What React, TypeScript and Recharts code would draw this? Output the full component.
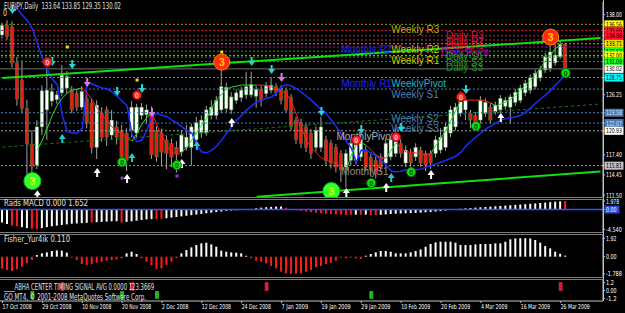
import React from "react";
import {
  ComposedChart,
  Bar,
  Line,
  XAxis,
  YAxis,
  ReferenceLine,
  ReferenceDot,
  Cell,
} from "recharts";

const NARROW = "'Liberation Sans Narrow', 'DejaVu Sans Condensed', 'Liberation Sans', sans-serif";
const SANS = "'Liberation Sans', Arial, sans-serif";
const SLOTS = 121; // 114 bars + chart shift on the right

// time axis
const dateBars = [0, 8, 16, 24, 32, 40, 48, 56, 64, 72, 80, 88, 96, 104, 112];
const dateLabels = [
  "17 Oct 2008", "29 Oct 2008", "10 Nov 2008", "20 Nov 2008", "2 Dec 2008",
  "12 Dec 2008", "24 Dec 2008", "7 Jan 2009", "19 Jan 2009", "29 Jan 2009",
  "10 Feb 2009", "20 Feb 2009", "4 Mar 2009", "16 Mar 2009", "26 Mar 2009",
];

// EURJPY daily candles
const opens = [
  135.0, 136.4, 136.2, 130.9, 128.4, 124.2, 119.0, 115.9, 121.5, 124.0,
  125.3, 125.5, 126.5, 127.2, 126.9, 126.4, 124.4, 125.7, 125.0, 118.5,
  123.5, 124.0, 120.3, 121.5, 121.0, 120.6, 121.0, 120.6, 123.2, 123.3,
  123.5, 121.0, 120.6, 119.6, 119.1, 118.5, 117.8, 118.5, 118.5, 119.6,
  120.6, 120.6, 123.2, 123.2, 124.0, 124.2, 124.0, 125.4, 125.8, 126.2,
  126.2, 126.0, 127.0, 126.4, 126.9, 127.4, 127.2, 126.9, 125.9, 122.5,
  122.1, 121.5, 120.6, 118.5, 118.5, 119.6, 119.1, 118.5, 117.6, 115.6,
  116.6, 116.6, 117.1, 118.1, 117.1, 116.6, 117.1, 116.2, 117.1, 117.6,
  119.1, 116.2, 117.6, 117.1, 118.1, 117.6, 117.6, 117.6, 118.1, 118.5,
  120.6, 121.5, 123.5, 124.0, 123.5, 123.2, 122.5, 123.5, 124.4, 123.7,
  124.0, 124.5, 124.4, 125.1, 125.4, 126.5, 126.9, 127.4, 128.7, 129.85,
  130.1, 130.9, 131.8, 133.64,
];
const highs = [
  136.8, 137.2, 137.0, 131.8, 131.3, 125.5, 121.0, 122.5, 127.6, 130.4,
  127.8, 126.8, 130.6, 129.7, 127.5, 127.0, 127.5, 126.3, 125.7, 125.4,
  124.4, 124.5, 124.0, 122.4, 121.8, 121.3, 125.3, 124.9, 125.0, 124.8,
  124.5, 121.6, 121.2, 120.2, 119.8, 119.4, 121.0, 121.8, 122.0, 123.0,
  123.2, 124.6, 125.4, 126.0, 129.9, 128.0, 126.6, 127.0, 127.4, 129.6,
  129.6, 127.5, 127.6, 128.1, 128.8, 127.9, 127.6, 127.3, 126.3, 123.0,
  122.7, 122.0, 121.2, 121.6, 123.0, 120.2, 119.6, 119.0, 118.1, 118.2,
  119.8, 120.3, 120.5, 118.7, 117.6, 117.2, 117.6, 119.8, 120.2, 121.4,
  119.8, 118.8, 118.3, 119.1, 118.6, 118.0, 118.1, 120.2, 121.3, 122.2,
  124.6, 125.0, 126.7, 126.0, 124.0, 123.7, 126.0, 125.7, 125.0, 125.2,
  126.2, 125.9, 126.3, 127.1, 127.7, 128.4, 129.2, 129.9, 130.4, 132.4,
  133.8, 135.3, 134.2, 133.85,
];
const lows = [
  134.5, 134.3, 130.2, 124.6, 123.5, 113.8, 114.6, 115.3, 120.3, 119.6,
  124.5, 124.9, 126.0, 126.4, 123.5, 123.8, 124.0, 121.3, 117.6, 116.8,
  119.3, 118.7, 119.6, 118.9, 116.3, 115.0, 120.0, 119.8, 122.6, 122.0,
  116.8, 116.4, 115.7, 115.3, 115.6, 114.8, 117.2, 118.0, 115.8, 118.8,
  119.9, 120.2, 122.6, 122.6, 123.5, 123.6, 123.4, 124.9, 125.2, 125.6,
  125.8, 124.3, 124.5, 125.9, 126.4, 126.0, 124.8, 123.6, 121.0, 119.0,
  118.4, 117.8, 116.8, 117.9, 117.8, 115.9, 115.4, 114.8, 113.4, 112.6,
  115.9, 116.0, 116.5, 115.0, 114.2, 113.9, 115.0, 115.7, 116.6, 117.1,
  117.0, 115.6, 115.4, 116.5, 115.6, 115.0, 115.3, 117.0, 117.6, 118.0,
  120.0, 121.0, 123.0, 122.5, 121.3, 121.5, 122.0, 123.0, 122.0, 123.3,
  123.5, 124.0, 122.0, 124.6, 125.0, 126.0, 126.4, 127.0, 128.2, 129.4,
  129.6, 130.5, 131.4, 129.35,
];
const closes = [
  136.4, 134.8, 130.9, 125.6, 124.2, 119.0, 115.8, 121.5, 126.8, 126.9,
  126.7, 126.2, 129.1, 128.9, 124.0, 124.4, 126.7, 122.0, 118.5, 124.7,
  120.0, 120.0, 122.5, 120.0, 117.1, 116.6, 124.4, 124.4, 124.4, 124.0,
  117.4, 117.1, 117.8, 117.6, 117.1, 117.6, 120.3, 120.0, 121.5, 122.1,
  122.5, 124.0, 124.4, 125.4, 127.4, 127.3, 125.9, 126.5, 126.9, 127.4,
  127.7, 127.0, 125.4, 127.6, 127.6, 126.5, 125.4, 124.0, 121.5, 119.6,
  119.1, 118.5, 117.6, 121.0, 121.5, 116.6, 116.2, 115.6, 115.2, 117.6,
  119.1, 119.6, 119.6, 115.6, 115.2, 114.7, 115.6, 119.1, 119.6, 120.0,
  117.6, 118.1, 116.2, 118.5, 116.2, 115.9, 116.2, 119.6, 120.0, 121.5,
  124.0, 124.4, 125.9, 125.4, 122.5, 122.1, 125.4, 125.1, 122.5, 124.7,
  125.7, 125.4, 125.9, 126.6, 127.2, 127.9, 128.7, 129.4, 129.85, 131.8,
  132.5, 132.05, 133.6, 130.02,
];

// blue moving line
const blueLine = [
  null, null, 139.5, 138.8, 137.9, 137.1, 135.9, 133.8, 131.6, 129.9,
  128.5, 127.7, 123.2, 120.8, 120.6, 120.6, 121.3, 128.1, 127.8, 127.5,
  127.2, 127.1, 126.6, 126.0, 125.3, 124.6, 120.3, 119.3, 119.6, 121.0,
  123.1, 123.5, 123.2, 123.0, 122.5, 122.1, 121.5, 121.0, 120.6, 118.8,
  117.8, 117.7, 118.1, 118.7, 119.6, 120.6, 121.5, 122.5, 123.2, 124.0,
  124.6, 125.2, 125.4, 125.7, 125.9, 126.5, 127.4, 127.7, 127.5, 127.1,
  126.6, 126.0, 125.4, 124.7, 124.0, 123.4, 122.5, 121.5, 120.5, 119.4,
  118.4, 116.3, 118.1, 118.0, 117.7, 117.2, 116.6, 115.9, 115.0, 114.9,
  115.0, 115.2, 115.2, 115.2, 115.3, 115.6, 115.8, 116.1, 116.3, 116.6,
  116.9, 117.2, 117.8, 118.7, 119.4, 120.0, 120.6, 121.2, 121.6, 122.1,
  122.5, 122.7, 122.8, 123.0, 123.2, 123.7, 124.3, 125.0, 125.6, 126.2,
  126.9, 127.7, 128.4, 129.3,
];

// red / green trailing line
const trailLine = [
  null, null, null, null, null, null, null, 118.1, 119.57, 121.33,
  123.24, 124.71, 125.74, 126.47, 126.91, 127.06, 127.21, 126.47, 125.44, 124.27,
  123.24, 122.36, 121.48, 120.89, 120.45, 119.87, 119.42, 120.6, 121.92, 122.95,
  123.54, 121.77, 120.16, 118.69, 117.81, 117.37, 117.81, 118.54, 119.57, 120.75,
  121.77, 122.8, 124.27, 125.44, 126.33, 127.06, 127.35, 127.5, 127.65, 127.65,
  127.65, 127.65, 127.65, 127.5, 127.35, 127.06, 126.77, 126.33, 125.15, 123.24,
  121.33, 119.57, 118.4, 117.66, 116.93, 116.63, 116.34, 116.05, 115.61, 115.17,
  117.37, 118.84, 119.13, 118.84, 118.1, 117.37, 116.93, 116.93, 118.1, 119.13,
  118.4, 117.81, 117.81, 117.66, 117.52, 117.37, 117.66, 118.84, 119.87, 121.04,
  122.51, 123.98, 125.44, 125.44, 125.44, 125.44, 125.44, 125.3, 125.0, 124.56,
  124.86, 125.15, 125.59, 126.18, 126.91, 127.65, 128.38, 129.26, 130.14, 131.32,
  132.05, 133.08, 133.37, 132.79,
];
const trailRuns: [number, number, string][] = [
  [7, 16, "g"], [17, 26, "r"], [27, 30, "g"], [31, 36, "r"], [37, 51, "g"],
  [52, 69, "r"], [70, 73, "g"], [74, 77, "r"], [78, 79, "g"], [80, 86, "r"],
  [87, 92, "g"], [93, 98, "r"], [99, 112, "g"], [113, 113, "r"],
];

// pivot levels
const levelPrices = [
  136.56, 135.66, 134.88, 134.26, 133.71, 133.23, 132.62, 132.0, 131.76,
  131.09, 130.02, 128.75, 127.06, 123.58, 122.07, 120.93, 115.81,
];
const levelColors = [
  "#9a9a00", "#dc143c", "#dc143c", "#c0305a", "#b4b400", "#c000c0", "#20a020",
  "#b4b400", "#20a020", "#20a020", "#707070", "#00a8d0", "#4682b4", "#4682b4",
  "#4682b4", "#a0a0a0", "#a0a0a0",
];
const labelTexts = [
  "Weekly R3", "Daily R3", "Daily R2", "Daily R1", "Monthly R2", "Weekly R2",
  "Daily Pivot", "Daily S1", "Weekly R1", "Daily S2", "Daily S3", "Monthly R1",
  "WeeklyPivot", "Weekly S1", "Weekly S2", "Weekly S3", "MonthlyPivot", "MonthlyS1",
];
const labelBars = [78, 89, 89, 89, 68, 78, 88, 89, 78, 89, 89, 68, 78, 78, 78, 78, 67, 68];
const labelPrices = [
  136.56, 135.66, 134.88, 134.26, 133.71, 133.71, 133.23, 132.62, 132.0,
  131.76, 131.09, 128.75, 128.75, 127.06, 123.58, 122.07, 120.93, 115.81,
];
const labelColors = [
  "#b4b400", "#dc143c", "#dc143c", "#dc143c", "#2020ff", "#c8c800", "#c000c0",
  "#209020", "#c8c800", "#209020", "#209020", "#2020ff", "#20b0c8", "#4682b4",
  "#4682b4", "#4682b4", "#b0b0b0", "#909090",
];

// trend lines [bar, price]
const trendUpper = [[0, 128.68], [120, 134.55]];
const trendLower = [[51, 111.25], [120, 114.95]];
const trendDashed = [[0, 118.54], [120, 124.86]];

// price axis
const plainTicks = [138.0, 126.25, 117.4, 114.45, 111.5];
const boxTicks = [
  136.56, 135.66, 134.88, 133.71, 132.62, 132.0, 131.09, 130.02, 128.75,
  123.58, 122.07, 120.93, 115.81,
];
const boxFills = [
  "#ffff00", "#ff2020", "#ff1030", "#f0e000", "#20ff20", "#ffff00", "#20ff20",
  "#ffffff", "#00ffff", "#4a78b0", "#4a78b0", "#ffffff", "#c0c0c0",
];

// signal markers
const cyanDownBars = [2, 10, 14, 23, 28, 50, 54, 64, 72, 80, 93];
const cyanDownPrices = [138.66, 131.02, 130.58, 126.62, 127.06, 131.02, 129.85, 123.68, 121.04, 121.33, 126.91];
const cyanUpBars = [12, 26, 39, 78];
const cyanUpPrices = [119.87, 117.08, 118.84, 114.14];
const whiteUpBars = [7, 19, 25, 36, 46, 69, 77, 86, 100];
const whiteUpPrices = [111.6, 114.87, 113.99, 116.19, 122.21, 111.94, 112.67, 114.58, 122.95];
const pinkDownBars = [17, 30, 56];
const pinkDownPrices = [127.94, 123.54, 128.68];
const greenZeroBars = [24, 35, 74, 82, 95, 113];
const greenZeroPrices = [116.34, 115.9, 113.26, 114.87, 121.63, 129.41];
const redZeroBars = [9, 27, 71, 79, 92];
const redZeroPrices = [131.02, 126.18, 119.57, 120.01, 125.89];
const redThreeBars = [44, 110];
const redThreePrices = [131.02, 134.7];
const greenThreeBars = [6, 66];
const greenThreePrices = [113.55, 112.08];
const yellowDotBars = [13, 27, 44];
const yellowDotPrices = [133.23, 128.38, 132.49];
const purpleDotBars = [24, 35];
const purpleDotPrices = [113.99, 114.29];

// Rads MACD histogram
const macd = [
  -2.98, -3.33, -3.69, -3.83, -4.04, -4.26, -4.4, -4.54, -4.26, -4.04,
  -3.83, -3.69, -3.55, -3.4, -3.26, -3.19, -3.12, -3.05, -2.98, -2.91,
  -2.84, -2.77, -2.69, -2.69, -2.98, -2.84, -2.69, -2.55, -2.41, -2.27,
  -2.2, -2.2, -2.13, -1.99, -1.84, -1.7, -1.56, -1.42, -1.28, -1.13,
  -0.99, -0.85, -0.71, -0.57, -0.43, -0.28, -0.21, -0.14, 0.02, 0.08,
  0.15, 0.3, 0.45, 0.55, 0.62, 0.68, 0.7, 0.45, -0.08, -0.15,
  -0.3, -0.45, -0.6, -0.72, -0.85, -0.95, -1.05, -1.12, -1.2, -1.25,
  -1.2, -1.15, -1.22, -1.15, -1.25, -1.3, -1.2, -1.1, -1.0, -0.95,
  -0.9, -0.85, -0.8, -0.75, -0.7, -0.62, -0.55, -0.45, -0.35, -0.22,
  -0.1, 0.1, 0.2, 0.3, 0.38, 0.45, 0.52, 0.6, 0.68, 0.76,
  0.84, 0.92, 1.0, 1.08, 1.16, 1.25, 1.34, 1.43, 1.52, 1.62,
  1.72, 1.82, 1.9, 1.978,
];
const macdRed = [2, 3, 6, 7, 18, 24, 31, 32, 57, 58, 59, 60, 61, 62, 63, 64, 65, 66, 67, 68, 69, 70, 72, 74, 75, 113];

// Fisher_Yur4ik
const fisher = [
  -1.22, -1.39, -1.49, -1.32, -1.04, -0.69, -0.35, 0.17, 0.35, 0.45,
  0.59, 0.66, 0.63, 0.42, -0.1, -0.35, -0.76, -0.87, -0.76, -0.63,
  -0.52, -0.42, -0.35, -0.28, -0.17, 0.35, 0.52, 0.28, -0.17, -0.52,
  -0.87, -1.32, -1.22, -0.87, -0.52, -0.17, 0.35, 0.69, 0.97, 1.22,
  1.39, 1.46, 1.28, 1.04, 0.63, 0.52, 0.45, 0.42, 0.35, 0.1,
  -0.17, -0.42, -0.52, -0.69, -0.97, -1.22, -1.56, -1.74, -1.788, -1.76,
  -1.74, -1.56, -1.39, -1.11, -0.97, -0.76, -0.63, -0.42, -0.1, -0.17,
  -0.1, -0.17, -0.24, 0.1, 0.28, 0.45, 0.59, 0.59, 0.52, 0.35,
  0.35, 0.35, 0.45, 0.59, 0.76, 1.04, 1.32, 1.49, 1.56, 1.56,
  1.56, 1.46, 1.22, 1.22, 1.22, 1.28, 1.32, 1.32, 1.32, 1.39,
  1.39, 1.56, 1.81, 1.9, 1.92, 1.92, 1.9, 1.74, 1.46, 1.11,
  0.87, 0.52, 0.3, 0.11,
];

// ABHA timing signal
const abhaRedBars = [12, 26, 53, 112];
const abhaGreenBars = [6, 24, 31, 74];

// window captions and the width each one takes
const captionTexts = [
  "EURJPY,Daily  133.64 133.85 129.35 130.02",
  "0",
  "Rads MACD 0.000 1.652",
  "Fisher_Yur4ik 0.110",
  "____ABHA CENTER TIMING SIGNAL AVG 0.0000 123.3669",
  "GO MT4, © 2001-2008 MetaQuotes Software Corp.",
];
const captionTops = [9, 16, 206, 242, 290, 300];
const captionWidths = [117, 4, 84, 66, 150, 142];

const trailSide: string[] = [];
trailRuns.forEach(([a, b, s]) => {
  for (let i = a; i <= b; i++) trailSide[i] = s;
});

const rows = Array.from({ length: SLOTS }, (_, i) => ({
  i,
  o: opens[i],
  h: highs[i],
  l: lows[i],
  c: closes[i],
  ma: blueLine[i] ?? null,
  tg: trailSide[i] === "g" || trailSide[i + 1] === "g" ? trailLine[i] ?? null : null,
  tr: trailSide[i] === "r" || trailSide[i + 1] === "r" ? trailLine[i] ?? null : null,
  macd: macd[i] ?? null,
  fisher: fisher[i] ?? null,
  abha: abhaRedBars.includes(i) ? [0, 1.2] : abhaGreenBars.includes(i) ? [-1.2, -0.15] : null,
}));

// MT4 scale font is small and tight
const fit = (s: string) => s.length * 2.65;

function Candle(props: any) {
  const { x, y, width, height, payload } = props;
  if (payload.o == null || !isFinite(y)) return <g />;
  const { o, h, l, c } = payload;
  const k = h > l ? height / (h - l) : 0;
  const yo = y + (h - o) * k;
  const yc = y + (h - c) * k;
  const cx = x + width / 2;
  const up = c >= o;
  const top = Math.min(yo, yc);
  const bh = Math.max(1, Math.abs(yc - yo));
  return (
    <g>
      <line x1={cx} x2={cx} y1={y} y2={y + height} stroke="#a0a0a0" strokeWidth={1} />
      <rect
        x={cx - 1.7}
        y={top}
        width={3.4}
        height={bh}
        fill={up ? "#ffffff" : "#f01818"}
        stroke={up ? "#3c9c3c" : "#2a8a2a"}
        strokeWidth={0.5}
      />
    </g>
  );
}

function ScaleText({ x, y, txt, fill }: { x: number; y: number; txt: string; fill: string }) {
  return (
    <text
      x={x}
      y={y}
      fill={fill}
      fontSize={6.8}
      fontFamily={NARROW}
      textLength={fit(txt)}
      lengthAdjust="spacingAndGlyphs"
    >
      {txt}
    </text>
  );
}

function priceTick(props: any) {
  const { x, y, payload } = props;
  const v = payload.value;
  const k = boxTicks.indexOf(v);
  const txt = v.toFixed(2);
  if (k < 0) return <ScaleText x={x} y={y + 2.5} txt={txt} fill="#ffffff" />;
  const dark = boxFills[k] === "#4a78b0";
  return (
    <g>
      <rect x={x - 1.5} y={y - 4} width={19} height={8} fill={boxFills[k]} />
      <ScaleText x={x} y={y + 2.5} txt={txt} fill={dark ? "#d8e4ff" : "#000000"} />
    </g>
  );
}

const sideTick = (values: number[], texts: string[], boxes: (string | null)[]) => (props: any) => {
  const k = values.indexOf(props.payload.value);
  const box = boxes[k];
  return (
    <g>
      {box && <rect x={props.x - 1.5} y={props.y - 4} width={15} height={8} fill={box} />}
      <ScaleText x={props.x} y={props.y + 2.5} txt={texts[k]} fill="#ffffff" />
    </g>
  );
};

function dateTick(props: any) {
  const { x, y, payload } = props;
  const k = dateBars.indexOf(payload.value);
  return <ScaleText x={x} y={y + 6} txt={dateLabels[k]} fill="#ffffff" />;
}

const arrowDown = (color: string) => (p: any) => (
  <path
    d={`M${p.cx - 1} ${p.cy - 5} L${p.cx + 1} ${p.cy - 5} L${p.cx + 1} ${p.cy - 1} L${p.cx + 3.5} ${p.cy - 1} L${p.cx} ${p.cy + 4} L${p.cx - 3.5} ${p.cy - 1} L${p.cx - 1} ${p.cy - 1} Z`}
    fill={color}
  />
);
const arrowUp = (color: string) => (p: any) => (
  <path
    d={`M${p.cx - 1} ${p.cy + 5} L${p.cx + 1} ${p.cy + 5} L${p.cx + 1} ${p.cy + 1} L${p.cx + 3.5} ${p.cy + 1} L${p.cx} ${p.cy - 4} L${p.cx - 3.5} ${p.cy + 1} L${p.cx - 1} ${p.cy + 1} Z`}
    fill={color}
  />
);
const badge = (r: number, fill: string, ring: string, txt: string, txtColor: string, fs: number) => (p: any) => (
  <g>
    <circle cx={p.cx} cy={p.cy} r={r} fill={fill} stroke={ring} strokeWidth={1} />
    <text
      x={p.cx}
      y={p.cy + fs * 0.36}
      textAnchor="middle"
      fill={txtColor}
      fontSize={fs}
      fontWeight="bold"
      fontFamily={SANS}
    >
      {txt}
    </text>
  </g>
);
const square = (color: string) => (p: any) => (
  <rect x={p.cx - 1.5} y={p.cy - 1.5} width={3} height={3} fill={color} />
);

const markerSets: { bars: number[]; prices: number[]; shape: (p: any) => React.ReactElement }[] = [
  { bars: yellowDotBars, prices: yellowDotPrices, shape: square("#e8e800") },
  { bars: purpleDotBars, prices: purpleDotPrices, shape: square("#9a30c8") },
  { bars: cyanDownBars, prices: cyanDownPrices, shape: arrowDown("#20d8d8") },
  { bars: cyanUpBars, prices: cyanUpPrices, shape: arrowUp("#20c8d0") },
  { bars: whiteUpBars, prices: whiteUpPrices, shape: arrowUp("#ffffff") },
  { bars: pinkDownBars, prices: pinkDownPrices, shape: arrowDown("#d080e0") },
  { bars: greenZeroBars, prices: greenZeroPrices, shape: badge(4.5, "#10e010", "#008000", "0", "#004000", 7) },
  { bars: redZeroBars, prices: redZeroPrices, shape: badge(4.5, "#ff2020", "#a00000", "0", "#ffd0d0", 7) },
  { bars: redThreeBars, prices: redThreePrices, shape: badge(8, "#ff2a10", "#ff8000", "3", "#ffcc00", 11) },
  { bars: greenThreeBars, prices: greenThreePrices, shape: badge(8.5, "#30ff30", "#10c010", "3", "#e0ff00", 11) },
];

const W = 625;
const AXIS_W = 22;
const AXIS_COLOR = "#c0c0c0";

const sep = (top: number): React.CSSProperties => ({
  position: "absolute",
  left: 0,
  top,
  width: 603,
  height: 1,
  borderTop: "1px solid #7c7c7c",
  borderBottom: "1px solid #7c7c7c",
});

export default function App() {
  return (
    <div
      style={{
        position: "absolute",
        left: 0,
        top: 0,
        width: W,
        height: 313,
        background: "#000000",
        overflow: "hidden",
        fontFamily: SANS,
      }}
    >
      {/* price window */}
      <div style={{ position: "absolute", left: 0, top: 0 }}>
        <ComposedChart width={W} height={198} data={rows} margin={{ top: 2, right: 0, bottom: 1, left: 0 }}>
          <XAxis dataKey="i" type="category" hide />
          <YAxis
            orientation="right"
            width={AXIS_W}
            domain={[111.21, 139.84]}
            allowDataOverflow
            ticks={[...plainTicks, ...boxTicks]}
            interval={0}
            tick={priceTick}
            tickSize={2}
            tickMargin={1}
            axisLine={{ stroke: AXIS_COLOR }}
            tickLine={{ stroke: AXIS_COLOR }}
          />
          {levelPrices.map((p, k) => (
            <ReferenceLine
              key={`lv${k}`}
              y={p}
              stroke={levelColors[k]}
              strokeDasharray={p === 130.02 ? undefined : "2 2"}
              strokeWidth={1}
            />
          ))}
          <ReferenceLine
            segment={trendDashed.map(([b, p]) => ({ x: b, y: p }))}
            stroke="#127a12"
            strokeDasharray="3 3"
            strokeWidth={1}
          />
          <Bar dataKey={(d: any) => (d.h == null ? null : [d.l, d.h])} shape={Candle} barSize={4} isAnimationActive={false} />
          <Line dataKey="ma" stroke="#1a2cff" strokeWidth={1.5} dot={false} activeDot={false} isAnimationActive={false} />
          <Line dataKey="tg" stroke="#20e020" strokeWidth={1} dot={false} activeDot={false} isAnimationActive={false} />
          <Line dataKey="tr" stroke="#ff2020" strokeWidth={1} dot={false} activeDot={false} isAnimationActive={false} />
          <ReferenceLine
            segment={trendUpper.map(([b, p]) => ({ x: b, y: p }))}
            stroke="#10e010"
            strokeWidth={2}
          />
          <ReferenceLine
            segment={trendLower.map(([b, p]) => ({ x: b, y: p }))}
            stroke="#10e010"
            strokeWidth={2}
          />
          {labelTexts.map((t, k) => (
            <ReferenceDot
              key={`lb${k}`}
              x={labelBars[k]}
              y={labelPrices[k]}
              r={0}
              ifOverflow="visible"
              shape={(p: any) => (
                <text x={p.cx} y={p.cy + 9} fill={labelColors[k]} fontSize={10} fontFamily={SANS}>
                  {t}
                </text>
              )}
            />
          ))}
          {markerSets.flatMap((m, s) =>
            m.bars.map((b, k) => (
              <ReferenceDot key={`m${s}-${k}`} x={b} y={m.prices[k]} r={0} ifOverflow="visible" shape={m.shape} />
            ))
          )}
        </ComposedChart>
      </div>

      {/* Rads MACD */}
      <div style={{ position: "absolute", left: 0, top: 199 }}>
        <ComposedChart width={W} height={34} data={rows} margin={{ top: 1, right: 0, bottom: 1, left: 0 }}>
          <XAxis dataKey="i" type="category" hide />
          <YAxis
            orientation="right"
            width={AXIS_W}
            domain={[-5.16, 2.21]}
            allowDataOverflow
            ticks={[1.978, 0, -4.54]}
            interval={0}
            tick={sideTick([1.978, 0, -4.54], ["1.978", "0.00", "-4.540"], [null, "#2848d8", null])}
            tickSize={2}
            tickMargin={1}
            axisLine={{ stroke: AXIS_COLOR }}
            tickLine={{ stroke: AXIS_COLOR }}
          />
          <Bar dataKey="macd" barSize={2} isAnimationActive={false}>
            {rows.map((r) => (
              <Cell key={r.i} fill={macdRed.includes(r.i) ? "#ff1a1a" : "#ffffff"} />
            ))}
          </Bar>
          <ReferenceLine y={0} stroke="#3050ff" strokeWidth={1.5} />
        </ComposedChart>
      </div>

      {/* Fisher */}
      <div style={{ position: "absolute", left: 0, top: 234 }}>
        <ComposedChart width={W} height={45} data={rows} margin={{ top: 1, right: 0, bottom: 1, left: 0 }}>
          <XAxis dataKey="i" type="category" hide />
          <YAxis
            orientation="right"
            width={AXIS_W}
            domain={[-2.22, 2.26]}
            allowDataOverflow
            ticks={[1.92, 0, -1.788]}
            interval={0}
            tick={sideTick([1.92, 0, -1.788], ["1.92", "0.00", "-1.788"], [null, null, null])}
            tickSize={2}
            tickMargin={1}
            axisLine={{ stroke: AXIS_COLOR }}
            tickLine={{ stroke: AXIS_COLOR }}
          />
          <Bar dataKey="fisher" barSize={2} isAnimationActive={false}>
            {rows.map((r) => (
              <Cell key={r.i} fill={(r.fisher ?? 0) >= 0 ? "#ffffff" : "#ff1a1a"} />
            ))}
          </Bar>
        </ComposedChart>
      </div>

      {/* ABHA timing signal + time axis */}
      <div style={{ position: "absolute", left: 0, top: 279 }}>
        <ComposedChart width={W} height={34} data={rows} margin={{ top: 1, right: 0, bottom: 0, left: 0 }}>
          <XAxis
            dataKey="i"
            type="category"
            height={12}
            ticks={dateBars}
            interval={0}
            tick={dateTick}
            tickSize={2}
            tickMargin={0}
            axisLine={{ stroke: AXIS_COLOR }}
            tickLine={{ stroke: AXIS_COLOR }}
          />
          <YAxis
            orientation="right"
            width={AXIS_W}
            domain={[-1.6, 1.6]}
            allowDataOverflow
            ticks={[1.2, 0, -1.2]}
            interval={0}
            tick={sideTick([1.2, 0, -1.2], ["1.2", "0.00", "-1.2"], [null, null, null])}
            tickSize={2}
            tickMargin={1}
            axisLine={{ stroke: AXIS_COLOR }}
            tickLine={{ stroke: AXIS_COLOR }}
          />
          <Bar dataKey="abha" barSize={3} isAnimationActive={false}>
            {rows.map((r) => (
              <Cell
                key={r.i}
                fill={abhaRedBars.includes(r.i) ? "#e8102c" : "#18b818"}
                stroke={abhaRedBars.includes(r.i) ? "#ff4060" : "#40ff40"}
                strokeWidth={0.5}
              />
            ))}
          </Bar>
        </ComposedChart>
      </div>

      {/* window separators and right scale border */}
      <div style={sep(197)} />
      <div style={sep(232)} />
      <div style={sep(277)} />
      <div style={{ position: "absolute", left: 603, top: 0, width: 1, height: 301, background: AXIS_COLOR }} />

      {/* window captions */}
      <svg width={W} height={313} style={{ position: "absolute", left: 0, top: 0, pointerEvents: "none" }}>
        {captionTexts.map((t, k) => (
          <text
            key={k}
            x={k === 1 ? 3 : 4}
            y={captionTops[k]}
            fill="#e0e0e0"
            fontSize={8}
            fontFamily={NARROW}
            textLength={captionWidths[k]}
            lengthAdjust="spacingAndGlyphs"
            xmlSpace="preserve"
          >
            {t}
          </text>
        ))}
      </svg>
    </div>
  );
}
